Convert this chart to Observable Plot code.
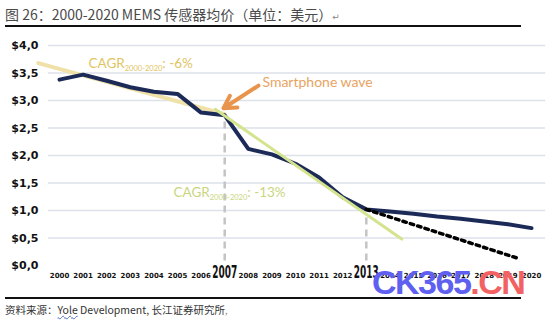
<!DOCTYPE html>
<html>
<head>
<meta charset="utf-8">
<script src="https://cdn.jsdelivr.net/npm/d3@7"></script>
<script src="https://cdn.jsdelivr.net/npm/@observablehq/plot@0.6"></script>
<style>
  html, body { margin: 0; padding: 0; background: #fff; }
  #page { position: relative; width: 550px; height: 321px; overflow: hidden; background: #fff; }
  #title { position: absolute; left: 5px; top: 4px; font: 14px "Noto Sans CJK SC", "DejaVu Sans", sans-serif; color: #4a4a4a; white-space: nowrap; }
  #title .ret, #source .ret { font-size: 9px; color: #888; }
  .rule { position: absolute; left: 5px; width: 516px; height: 1.5px; background: #111; }
  #chart { position: absolute; left: 0; top: 30px; }
  #source { position: absolute; left: 5px; top: 302px; font: 10.5px "Noto Sans CJK SC", "DejaVu Sans", sans-serif; color: #333; white-space: nowrap; }
  #source .yole { text-decoration: underline wavy #5070c0; text-decoration-thickness: 1px; }
  #wm { position: absolute; left: 372px; top: 263px; font: bold 34px "Liberation Sans", Arial, sans-serif; letter-spacing: -1.5px; white-space: nowrap; }
  #wm .b { color: #6060f0; }
  #wm .r { color: #f26262; }
</style>
</head>
<body>
<div id="page">
  <div id="title">图 26：2000-2020 MEMS 传感器均价（单位：美元）<span class="ret">↵</span></div>
  <div class="rule" style="top:25px"></div>
  <div id="chart"></div>
  <div class="rule" style="top:297px"></div>
  <div id="source">资料来源：<span class="yole">Yole</span> Development, 长江证券研究所<span class="ret">,</span></div>
  <div id="wm"><span class="b">CK365</span><span class="r">.CN</span></div>
</div>
<script>
// ---- data ----
const years = [2000,2001,2002,2003,2004,2005,2006,2007,2008,2009,2010,2011,2012,2013,2014,2015,2016,2017,2018,2019,2020];
const avgPrice = [3.38,3.47,3.36,3.24,3.16,3.12,2.78,2.73,2.12,2.02,1.85,1.60,1.24,1.02,0.98,0.94,0.89,0.85,0.80,0.75,0.68];
const trendYears = [2013, 2019.5];
const trendValues = [1.02, 0.12];
const cagr6Years = [1999.1, 2007];
const cagr6Values = [3.68, 2.75];
const cagr13Years = [2006.6, 2014.5];
const cagr13Values = [2.84, 0.48];
const markerYears = [2007, 2013];
const markerTops = [2.72, 0.95];
const yTicks = [0,0.5,1,1.5,2,2.5,3,3.5,4];
const gridTicks = [0.5,1,1.5,2,2.5,3,3.5,4];
const highlightYears = [2007, 2013];

const series = years.map((y,i) => ({year: y, value: avgPrice[i]}));
const trend = trendYears.map((y,i) => ({year: y, value: trendValues[i]}));
const cagr6 = cagr6Years.map((y,i) => ({year: y, value: cagr6Values[i]}));
const cagr13 = cagr13Years.map((y,i) => ({year: y, value: cagr13Values[i]}));
const markers = markerYears.map((y,i) => ({year: y, top: markerTops[i]}));

const fmt = d => "$" + d.toFixed(1).replace(".", ",");

const chart = Plot.plot({
  width: 550,
  height: 262,
  marginLeft: 59,
  marginRight: 19,
  marginTop: 15,
  marginBottom: 27,
  style: {background: "#fff", overflow: "visible"},
  x: {domain: [2000, 2020], axis: null},
  y: {domain: [0, 4], axis: null},
  marks: [
    Plot.ruleY(gridTicks, {x1: 1999.53, x2: 2020.6, stroke: "#dde2ea", strokeWidth: 1.5}),
    Plot.axisY(yTicks, {tickSize: 0, tickPadding: 21, tickFormat: fmt, fontSize: 11, fontWeight: "bold", fontFamily: "DejaVu Sans", fill: "#111"}),
    Plot.ruleX(markers, {x: "year", y1: 0.08, y2: "top", stroke: "#c4c4c4", strokeWidth: 2.5, strokeDasharray: "7,5"}),
    Plot.line(cagr6, {x: "year", y: "value", stroke: "#efe1a8", strokeWidth: 4}),
    Plot.line(series, {x: "year", y: "value", stroke: "#1c2a58", strokeWidth: 4, strokeLinejoin: "round", strokeLinecap: "round"}),
    Plot.line(cagr13, {x: "year", y: "value", stroke: "#d3e38e", strokeWidth: 3}),
    Plot.line(trend, {x: "year", y: "value", stroke: "#000", strokeWidth: 3.5, strokeDasharray: "3.5,4.2"}),
    Plot.arrow([{x1: 2008.43, y1: 3.27, x2: 2006.95, y2: 2.86}], {x1: "x1", y1: "y1", x2: "x2", y2: "y2", stroke: "#e8944c", strokeWidth: 4, headLength: 11, bend: 0}),
    Plot.text(["Smartphone wave"], {x: 2008.6, y: 3.25, text: d => d, textAnchor: "start", lineAnchor: "bottom", fontSize: 14, fontFamily: "Lato", fill: "#e8a462"}),
    Plot.text(["CAGR|2000-2020|: -6%"], {x: 2001.23, y: 3.6, text: d => d, textAnchor: "start", lineAnchor: "bottom", fontSize: 13.5, fontFamily: "Lato", fill: "#dfc462"}),
    Plot.text(["CAGR|2000-2020|: -13%"], {x: 2004.83, y: 1.24, text: d => d, textAnchor: "start", lineAnchor: "bottom", fontSize: 13.5, fontFamily: "Lato", fill: "#c9d67e"}),
    Plot.text(years.filter(y => !highlightYears.includes(y)), {x: d => d, y: 0, dy: 10, text: d => String(d), fontSize: 7, fontWeight: "bold", fontFamily: "DejaVu Sans", fill: "#111"}),
    Plot.text(highlightYears, {x: d => d, y: 0, dy: 7, text: d => "Y" + d, fontSize: 17, fontWeight: "bold", fontFamily: "DejaVu Sans", fill: "#111", stroke: "#fff", strokeWidth: 3, paintOrder: "stroke"})
  ]
});

d3.select(chart).selectAll("text").each(function() {
  const t = this.textContent;
  const el = d3.select(this);
  if (t.startsWith("CAGR|")) {
    const [a, b, c] = t.split("|");
    el.text(null);
    el.append("tspan").text(a);
    el.append("tspan").attr("font-size", 7.5).attr("dy", 3).text(b);
    el.append("tspan").attr("dy", -3).text(c);
  } else if (/^Y\d{4}$/.test(t)) {
    el.text(t.slice(1)).attr("textLength", 25).attr("lengthAdjust", "spacingAndGlyphs");
  }
});

document.getElementById("chart").appendChild(chart);
</script>
</body>
</html>
